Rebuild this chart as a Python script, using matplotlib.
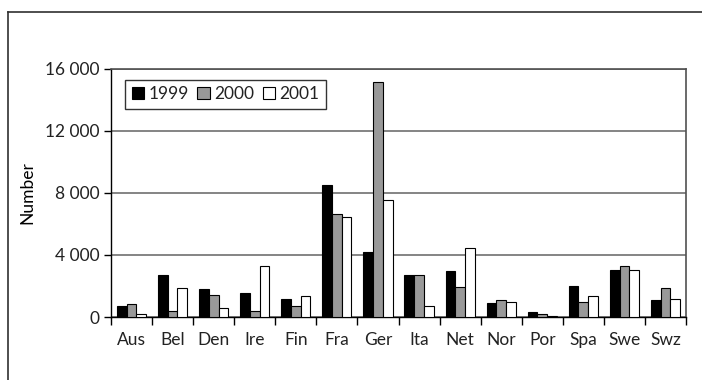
import numpy as np
import matplotlib
matplotlib.use("Agg")
import matplotlib.pyplot as plt
from matplotlib.lines import Line2D
from matplotlib.ticker import FuncFormatter

plt.rcParams['font.family'] = ['Lato', 'DejaVu Sans']
plt.rcParams['text.color'] = '#222222'
plt.rcParams['xtick.labelcolor'] = '#222222'
plt.rcParams['ytick.labelcolor'] = '#222222'

# Data
countries = ['Aus', 'Bel', 'Den', 'Ire', 'Fin', 'Fra', 'Ger', 'Ita', 'Net', 'Nor', 'Por', 'Spa', 'Swe', 'Swz']
years = ['1999', '2000', '2001']
v1999 = [740, 2690, 1790, 1540, 1190, 8500, 4190, 2710, 2970, 870, 300, 2010, 3050, 1110]
v2000 = [850, 380, 1410, 400, 740, 6640, 15100, 2710, 1900, 1110, 190, 980, 3270, 1860]
v2001 = [190, 1880, 600, 3290, 1320, 6410, 7560, 720, 4420, 980, 80, 1320, 3020, 1190]

W, H = 702, 380
fig = plt.figure(figsize=(W / 100, H / 100), dpi=100)
ax = fig.add_axes([111 / W, 1 - 317 / H, (686 - 111) / W, (317 - 68.5) / H])

x = np.arange(len(countries))
bw = 0.236
colors = ['black', '#999999', 'white']
series = [v1999, v2000, v2001]
for k, (vals, col, yr) in enumerate(zip(series, colors, years)):
    ax.bar(x + (k - 1) * bw, vals, width=bw, color=col, edgecolor='black',
           linewidth=0.8, label=yr, zorder=3)

ax.set_xlim(-0.5, len(countries) - 0.5)
ax.set_ylim(0, 16000)
ax.set_yticks([0, 4000, 8000, 12000, 16000])
ax.yaxis.set_major_formatter(FuncFormatter(lambda v, p: f"{int(v):,}".replace(',', ' ')))
ax.yaxis.grid(True, color='#707070', linewidth=1.2, zorder=0)

# category separators as ticks
ax.set_xticks(np.arange(len(countries) + 1) - 0.5)
ax.set_xticklabels([])
ax.set_xticks(x, minor=True)
ax.set_xticklabels(countries, minor=True)
ax.tick_params(axis='x', which='major', length=6, width=1, direction='out')
ax.tick_params(axis='x', which='minor', length=0, pad=11, labelsize=12.5)
ax.tick_params(axis='y', length=5, width=1, labelsize=12.5, pad=3)

for s in ['left', 'bottom']:
    ax.spines[s].set_color('black')
    ax.spines[s].set_linewidth(1)
for s in ['top', 'right']:
    ax.spines[s].set_color('#505050')
    ax.spines[s].set_linewidth(1.2)

ax.set_ylabel('Number', fontsize=12.5, labelpad=7)

leg = ax.legend(loc='upper left', bbox_to_anchor=(14 / 575, 1 - 11 / 248.5), ncol=3,
                frameon=True, fancybox=False, edgecolor='black', fontsize=12.5,
                handlelength=0.7, handleheight=0.7, handletextpad=0.25,
                columnspacing=0.5, borderpad=0.4, borderaxespad=0)
leg.get_frame().set_linewidth(1)
leg.set_zorder(5)

# outer frame (left and top edges visible)
fig.add_artist(Line2D([8 / W, 8 / W], [0, 1 - 12 / H], color='#303030', linewidth=1.2))
fig.add_artist(Line2D([8 / W, 1], [1 - 12 / H, 1 - 12 / H], color='#303030', linewidth=1.2))

fig.savefig('out.png', dpi=100)
